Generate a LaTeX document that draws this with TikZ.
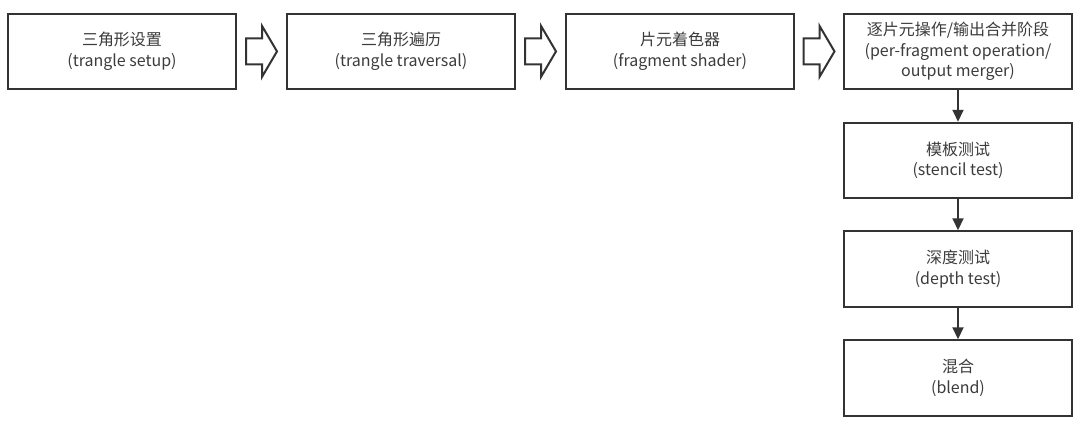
\documentclass[tikz,border=0pt]{standalone}
\usepackage{fontspec}
\setmainfont{Noto Sans CJK SC}
\usetikzlibrary{calc,arrows.meta}
\definecolor{linec}{RGB}{51,51,51}
\definecolor{textc}{RGB}{60,60,60}
\tikzset{
  stage/.style={draw=linec, line width=2pt, fill=white, minimum width=228pt, minimum height=75.5pt,
    inner sep=0pt, align=center, text=textc, font=\fontsize{16pt}{20.5pt}\selectfont},
  blk/.style={draw=linec, line width=2pt, line join=miter, fill=white},
  flow/.style={draw=linec, line width=2pt, -{Triangle[length=12pt,width=11pt]}}
}
\begin{document}
\begin{tikzpicture}[x=1pt,y=-1pt]
\useasboundingbox (0,0) rectangle (1085,429);
\node[stage] (b1) at (122,51.4) {三角形设置\\(trangle setup)};
\node[stage] (b2) at (401,51.4) {三角形遍历\\(trangle traversal)};
\node[stage] (b3) at (680,51.4) {片元着色器\\(fragment shader)};
\node[stage] (b4) at (958,51.4) {逐片元操作/输出合并阶段\\(per-fragment operation/\\output merger)};
\node[stage] (b5) at (958,160.5) {模板测试\\(stencil test)};
\node[stage] (b6) at (958,269) {深度测试\\(depth test)};
\node[stage] (b7) at (958,378) {混合\\(blend)};
\foreach \a/\b/\n in {b1/b2/m1,b2/b3/m2,b3/b4/m3}{
  \coordinate (\n) at ($(\a.east)!0.5!(\b.west)$);
  \draw[blk] ($(\n)+(-15.5,-13)$) -- ($(\n)+(0.5,-13)$) -- ($(\n)+(0.5,-25.5)$) -- ($(\n)+(15.5,0)$)
    -- ($(\n)+(0.5,25.5)$) -- ($(\n)+(0.5,13)$) -- ($(\n)+(-15.5,13)$) -- cycle;
}
\draw[flow] (b4) -- (b5);
\draw[flow] (b5) -- (b6);
\draw[flow] (b6) -- (b7);
\end{tikzpicture}
\end{document}
